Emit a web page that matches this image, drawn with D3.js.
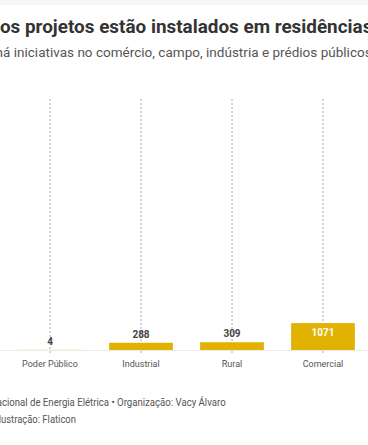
<!DOCTYPE html>
<html>
<head>
<meta charset="utf-8">
<script src="https://cdn.jsdelivr.net/npm/d3@7"></script>
<style>
  html, body { margin: 0; padding: 0; background: #fff; overflow: hidden; }
  svg { display: block; font-family: Roboto, "Noto Sans", sans-serif; }
</style>
</head>
<body>
<svg id="chart"></svg>
<script>
// data
const categories = ["Poder Público", "Industrial", "Rural", "Comercial"];
const projects = [4, 288, 309, 1071];
const yMax = 10000; // top of the scale (largest category is off to the right)

const width = 368;
const height = 445;

const svg = d3.select("#chart")
    .attr("width", width)
    .attr("height", height);

// grey strip on top
svg.append("rect")
    .attr("x", 0).attr("y", 0)
    .attr("width", width).attr("height", 5)
    .attr("fill", "#f6f6f6");

// text that is cut by the left edge: place substring `visible` between x0 and x1
function fitText(sel, full, visible, x0, x1) {
  const node = sel.text(full).node();
  const i = full.indexOf(visible);
  const pre = i > 0 ? node.getSubStringLength(0, i) : 0;
  const len = node.getSubStringLength(i, visible.length);
  const sx = (x1 - x0) / len;
  const y = +sel.attr("y");
  sel.attr("x", 0).attr("y", 0)
    .attr("transform", `translate(${x0 - pre * sx},${y}) scale(${sx},1)`);
}

fitText(svg.append("text")
    .attr("y", 33)
    .attr("font-size", 18)
    .attr("font-weight", 700)
    .attr("fill", "#333"),
  "A maioria dos projetos estão instalados em residências",
  "os projetos estão instalados em residência", 0, 363);

fitText(svg.append("text")
    .attr("y", 57)
    .attr("font-size", 13)
    .attr("fill", "#555"),
  "há iniciativas no comércio, campo, indústria e prédios públicos",
  "á iniciativas no comércio, campo, indústria e prédios público", 3, 365);

const x = d3.scaleBand()
    .domain(categories)
    .range([4.5, 368.5])
    .paddingInner(0.3)
    .paddingOuter(0.15);

const y = d3.scaleLinear()
    .domain([0, yMax])
    .range([350, 99]);

const data = categories.map((c, i) => ({ name: c, value: projects[i] }));

// dashed guides
svg.selectAll(".guide")
  .data(data)
  .enter()
  .append("line")
    .attr("class", "guide")
    .attr("x1", d => x(d.name) + x.bandwidth() / 2)
    .attr("x2", d => x(d.name) + x.bandwidth() / 2)
    .attr("y1", y(yMax))
    .attr("y2", y(0) + 4)
    .attr("stroke", "#aaa")
    .attr("stroke-width", 1)
    .attr("stroke-dasharray", "2,2");

// baseline
svg.append("line")
    .attr("x1", 0).attr("x2", width)
    .attr("y1", y(0) + 0.5).attr("y2", y(0) + 0.5)
    .attr("stroke", "#ecebe4");

svg.selectAll(".bar")
  .data(data)
  .enter()
  .append("rect")
    .attr("class", "bar")
    .attr("x", d => x(d.name))
    .attr("y", d => y(d.value))
    .attr("width", x.bandwidth())
    .attr("height", d => y(0) - y(d.value))
    .attr("fill", "#e2b203");

svg.selectAll(".value")
  .data(data)
  .enter()
  .append("text")
    .attr("class", "value")
    .attr("x", d => x(d.name) + x.bandwidth() / 2)
    .attr("y", d => (y(0) - y(d.value)) > 20 ? y(d.value) + 13 : y(d.value) - 5)
    .attr("text-anchor", "middle")
    .attr("font-size", 10)
    .attr("font-weight", 700)
    .attr("fill", d => (y(0) - y(d.value)) > 20 ? "#fff" : "#444")
    .text(d => d.value);

svg.selectAll(".cat")
  .data(data)
  .enter()
  .append("text")
    .attr("class", "cat")
    .attr("x", d => x(d.name) + x.bandwidth() / 2)
    .attr("y", 367)
    .attr("text-anchor", "middle")
    .attr("font-size", 9)
    .attr("fill", "#555")
    .text(d => d.name);

fitText(svg.append("text")
    .attr("y", 406)
    .attr("font-size", 10)
    .attr("fill", "#555"),
  "Fonte: Agência Nacional de Energia Elétrica • Organização: Vacy Álvaro",
  "cional de Energia Elétrica • Organização: Vacy Álvaro", 2, 226);

fitText(svg.append("text")
    .attr("y", 423)
    .attr("font-size", 10)
    .attr("fill", "#555"),
  "Ilustração: Flaticon",
  "ustração: Flaticon", 1, 76);
</script>
</body>
</html>
